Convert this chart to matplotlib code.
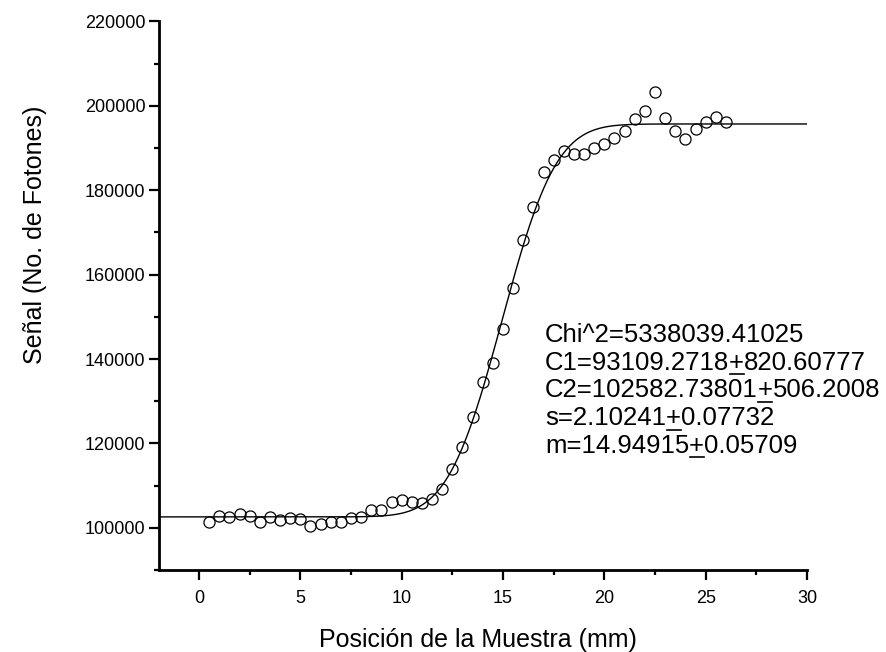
import math
import numpy as np
import matplotlib
matplotlib.use("Agg")
import matplotlib.pyplot as plt
from matplotlib.ticker import MultipleLocator
from matplotlib.lines import Line2D

plt.rcParams['font.family'] = ['Liberation Sans', 'DejaVu Sans']

# Measured signal versus sample position
position_mm = [0.5, 1.0, 1.5, 2.0, 2.5, 3.0, 3.5, 4.0, 4.5, 5.0,
               5.5, 6.0, 6.5, 7.0, 7.5, 8.0, 8.5, 9.0, 9.5, 10.0,
               10.5, 11.0, 11.5, 12.0, 12.5, 13.0, 13.5, 14.0, 14.5, 15.0,
               15.5, 16.0, 16.5, 17.0, 17.5, 18.0, 18.5, 19.0, 19.5, 20.0,
               20.5, 21.0, 21.5, 22.0, 22.5, 23.0, 23.5, 24.0, 24.5, 25.0,
               25.5, 26.0]
signal = [101280, 102770, 102600, 103320, 102850, 101350, 102600, 101900, 102300, 101990,
          100400, 100880, 101350, 101350, 102220, 102460, 104120, 104120, 106090, 106560,
          106090, 105780, 106870, 109170, 113910, 119050, 126310, 134600, 138960, 147090,
          156880, 168180, 175940, 184300, 187100, 189200, 188570, 188570, 189990, 190940,
          192290, 194090, 196790, 198830, 203190, 197100, 194090, 192050, 194560, 196220,
          197260, 196220]

# Fit parameters (error-function step)
chi2 = "5338039.41025"
C1, C1_err = 93109.2718, "820.60777"
C2, C2_err = 102582.73801, "506.2008"
s_fit, s_err = 2.10241, "0.07732"
m_fit, m_err = 14.94915, "0.05709"

fit_lines = [
    ("Chi^2=" + chi2, None),
    ("C1=93109.2718", C1_err),
    ("C2=102582.73801", C2_err),
    ("s=2.10241", s_err),
    ("m=14.94915", m_err),
]

W, H = 886, 652
fig = plt.figure(figsize=(W / 100, H / 100), dpi=100)
ax = fig.add_axes([158.5 / W, 1 - 570 / H, (807 - 158.5) / W, (570 - 21.4) / H])

x_fit = np.linspace(-2, 30, 600)
erf_v = np.vectorize(math.erf)
y_fit = C2 + C1 * 0.5 * (1 + erf_v((x_fit - m_fit) / (math.sqrt(2) * s_fit)))
ax.plot(x_fit, y_fit, color='black', lw=1.0, zorder=2)
ax.plot(position_mm, signal, linestyle='none', marker='o', ms=8.0,
        mfc='none', mec='black', mew=0.9, zorder=3)

ax.set_xlim(-2, 30)
ax.set_ylim(90000, 220000)
ax.xaxis.set_major_locator(MultipleLocator(5))
ax.xaxis.set_minor_locator(MultipleLocator(2.5))
ax.yaxis.set_minor_locator(MultipleLocator(10000))
ax.set_yticks(np.arange(100000, 220001, 20000))

for side in ('top', 'right'):
    ax.spines[side].set_visible(False)
for side in ('left', 'bottom'):
    ax.spines[side].set_linewidth(2.0)

ax.tick_params(which='major', direction='out', length=7.5, width=1.6, labelsize=13)
ax.tick_params(which='minor', direction='out', length=3.8, width=1.6)
ax.tick_params(axis='x', which='major', pad=7)
ax.tick_params(axis='y', which='major', pad=1.8)

fig.text(478 / W, 1 - 647 / H, "Posición de la Muestra (mm)", fontsize=18,
         ha='center', va='baseline')
fig.text(35 / W, 1 - 235 / H, "Señal (No. de Fotones)", fontsize=18,
         rotation=90, ha='center', va='center')

# Fit-result block; the "±" is drawn as an underlined plus
FS = 18.5
x0 = 545
baselines = [342.0, 369.7, 397.4, 425.1, 452.8]
fig.canvas.draw()
renderer = fig.canvas.get_renderer()


def put(px, yb, s):
    t = fig.text(px / W, 1 - yb / H, s, fontsize=FS, ha='left', va='baseline')
    return t, t.get_window_extent(renderer)


for (head, err), yb in zip(fit_lines, baselines):
    _, bb1 = put(x0, yb, head)
    if err is None:
        continue
    _, bb2 = put(bb1.x1, yb, "+")
    put(bb2.x1, yb, err)
    uy = yb + 4.5
    fig.add_artist(Line2D([(bb2.x0 + 0.5) / W, (bb2.x1 - 0.5) / W],
                          [1 - uy / H, 1 - uy / H],
                          transform=fig.transFigure, color='black', lw=1.2))

fig.savefig("out.png", dpi=100)
